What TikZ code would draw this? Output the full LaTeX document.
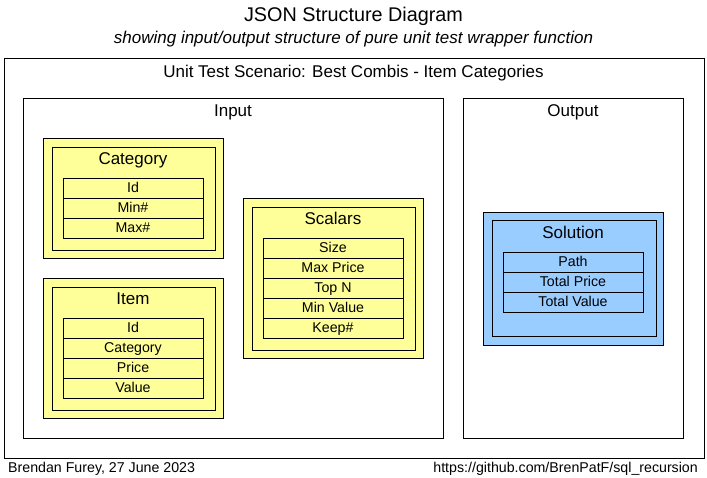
\documentclass[tikz,border=0pt]{standalone}
\usepackage{fontspec}
\setmainfont{Liberation Sans}
\begin{document}
\begin{tikzpicture}[x=1pt,y=-1pt,
  box/.style={draw=black,line width=0.8pt},
  ybox/.style={box,fill=yellowfill},
  bbox/.style={box,fill=bluefill},
  ttl/.style={font=\fontsize{17}{19}\selectfont,anchor=base,inner sep=0pt},
  fld/.style={font=\fontsize{14.2}{16}\selectfont,anchor=base,inner sep=0pt}]
\definecolor{yellowfill}{HTML}{FFFF99}
\definecolor{bluefill}{HTML}{99CCFF}
\useasboundingbox[fill=white] (0,0) rectangle (707,477);
% title
\node[anchor=base,inner sep=0pt] (title) at (353.5,21) {\fontsize{19.8}{22}\selectfont JSON Structure Diagram};
\node[anchor=base,inner sep=0pt] (subtitle) at (353.5,43.5) {\fontsize{17}{19}\selectfont\itshape showing input/output structure of pure unit test wrapper function};
% outer
\draw[box] (4,58) rectangle (704,458);
\node[ttl] (scen) at (353.5,77) {Unit Test Scenario: Best Combis - Item Categories};
% input/output
\draw[box] (23,98) rectangle (443,438);
\node[ttl] (inlbl) at (233,116.5) {Input};
\draw[box] (463,98) rectangle (683,438);
\node[ttl] (outlbl) at (573,116.5) {Output};
% Category
\draw[ybox] (43,138) rectangle (223,258);
\draw[box] (52,147) rectangle (215,250);
\node[ttl] (cat) at (133,164.5) {Category};
\foreach \t [count=\i] in {Id,Min\#,Max\#}{
  \draw[box] (63,{158+20*\i}) rectangle (203,{178+20*\i});
  \node[fld] at (133,{172.5+20*\i}) {\t};
}
% Item
\draw[ybox] (43,278) rectangle (223,418);
\draw[box] (52,287) rectangle (215,410);
\node[ttl] (item) at (133,304.5) {Item};
\foreach \t [count=\i] in {Id,Category,Price,Value}{
  \draw[box] (63,{298+20*\i}) rectangle (203,{318+20*\i});
  \node[fld] at (133,{312.5+20*\i}) {\t};
}
% Scalars
\draw[ybox] (243,198) rectangle (423,358);
\draw[box] (252,207) rectangle (415,350);
\node[ttl] (scal) at (333,224.5) {Scalars};
\foreach \t [count=\i] in {Size,Max Price,Top N,Min Value,Keep\#}{
  \draw[box] (263,{218+20*\i}) rectangle (403,{238+20*\i});
  \node[fld] at (333,{232.5+20*\i}) {\t};
}
% Solution
\draw[bbox] (483,212) rectangle (663,345);
\draw[box] (492,220) rectangle (656,336);
\node[ttl] (sol) at (573,238.5) {Solution};
\foreach \t [count=\i] in {Path,Total Price,Total Value}{
  \draw[box] (503,{232+20*\i}) rectangle (643,{252+20*\i});
  \node[fld] at (573,{246.5+20*\i}) {\t};
}
% footer
\node[fld,anchor=base west] (auth) at (8,472) {Brendan Furey, 27 June 2023};
\node[fld,anchor=base east] (url) at (698,472) {https://github.com/BrenPatF/sql\_recursion};
\end{tikzpicture}
\end{document}
